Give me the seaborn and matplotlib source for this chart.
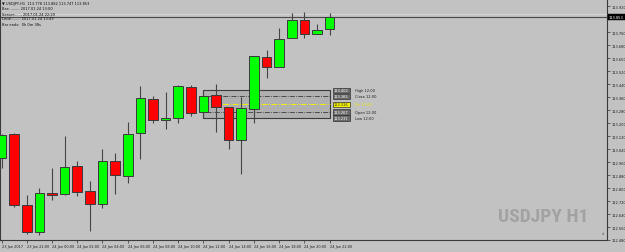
import matplotlib
matplotlib.use("Agg")
import matplotlib.pyplot as plt
import seaborn as sns
import numpy as np
import pandas as pd
from matplotlib.patches import Rectangle
from matplotlib import font_manager

# ---------------- data ----------------
times = ["23 Jan 20:00", "23 Jan 21:00", "23 Jan 22:00", "23 Jan 23:00",
         "24 Jan 00:00", "24 Jan 01:00", "24 Jan 02:00", "24 Jan 03:00",
         "24 Jan 04:00", "24 Jan 05:00", "24 Jan 06:00", "24 Jan 07:00",
         "24 Jan 08:00", "24 Jan 09:00", "24 Jan 10:00", "24 Jan 11:00",
         "24 Jan 12:00", "24 Jan 13:00", "24 Jan 14:00", "24 Jan 15:00",
         "24 Jan 16:00", "24 Jan 17:00", "24 Jan 18:00", "24 Jan 19:00",
         "24 Jan 20:00", "24 Jan 21:00", "24 Jan 22:00"]
open_ = [112.988, 113.135, 112.693, 112.530, 112.772, 112.762, 112.939, 112.782,
         112.703, 112.970, 112.876, 113.139, 113.349, 113.218, 113.232, 113.422,
         113.267, 113.371, 113.298, 113.094, 113.289, 113.611, 113.544, 113.726,
         113.839, 113.750, 113.778]
high = [113.135, 113.138, 112.760, 112.798, 112.921, 113.121, 112.968, 112.846,
        113.039, 113.014, 113.208, 113.428, 113.367, 113.391, 113.434, 113.434,
        113.402, 113.440, 113.298, 113.361, 113.616, 113.650, 113.789, 113.879,
        113.885, 113.813, 113.882]
low = [112.927, 112.682, 112.519, 112.511, 112.727, 112.755, 112.751, 112.536,
       112.678, 112.764, 112.831, 112.980, 113.202, 113.165, 113.204, 113.243,
       113.231, 113.149, 113.043, 112.886, 113.202, 113.477, 113.544, 113.726,
       113.726, 113.750, 113.747]
close = [113.130, 112.693, 112.530, 112.770, 112.758, 112.933, 112.778, 112.699,
         112.968, 112.880, 113.133, 113.353, 113.222, 113.232, 113.428, 113.263,
         113.365, 113.298, 113.094, 113.294, 113.616, 113.544, 113.721, 113.839,
         113.750, 113.775, 113.853]

xtick_pos = [0, 2, 4, 6, 8, 10, 12, 14, 16, 18, 20, 22, 24, 26]
xtick_labels = ["23 Jan 2017", "23 Jan 22:00", "24 Jan 00:00", "24 Jan 02:00",
                "24 Jan 04:00", "24 Jan 06:00", "24 Jan 08:00", "24 Jan 10:00",
                "24 Jan 12:00", "24 Jan 14:00", "24 Jan 16:00", "24 Jan 18:00",
                "24 Jan 20:00", "24 Jan 22:00"]
ytick_vals = [112.480, 112.560, 112.640, 112.720, 112.800, 112.880, 112.960,
              113.040, 113.120, 113.200, 113.280, 113.360, 113.440, 113.520,
              113.600, 113.680, 113.760, 113.920]

level_names = ["High 12:00", "Close 12:00", "Piv 12:00", "Open 12:00", "Low 12:00"]
level_values = [113.402, 113.365, 113.316, 113.267, 113.231]
bid_price = 113.853
ask_price = 113.874

header_lines = ["\u25bc USDJPY,H1  113.778 113.882 113.747 113.853",
                "Bar:......... 2017.01.24 13:00",
                "Server:...... 2017.01.24 22:29",
                "Local:....... 2017.01.24 13:49",
                "Bar ends:  0h 0m 38s"]

# ---------------- style ----------------
BG = "#c2c2c2"
sns.set_theme(style="white", rc={"axes.facecolor": BG, "figure.facecolor": BG,
                                  "axes.edgecolor": "#3a3a3a"})
plt.rcParams["font.family"] = ["DejaVu Sans"]

fig = plt.figure(figsize=(6.25, 2.53), dpi=100)
ax = fig.add_axes([0.0, 12 / 253, 607 / 625, 241 / 253])

df = pd.DataFrame({"t": np.arange(len(times)), "time": times, "open": open_,
                   "high": high, "low": low, "close": close})
df["up"] = df["close"] >= df["open"]
df["bottom"] = df[["open", "close"]].min(axis=1)
df["height"] = (df["close"] - df["open"]).abs().clip(lower=0.004)

# levels box (12:00 candle)
x0, x1 = 15.95, 26.05
ax.add_patch(Rectangle((x0, level_values[4]), x1 - x0, level_values[0] - level_values[4],
                       facecolor="#b0b0b0", edgecolor="#3c3c3c", lw=0.8, zorder=1.5))
ax.hlines([level_values[1], level_values[3]], 16.2, x1, colors="#3c3c3c", lw=0.6,
          linestyles=(0, (6, 1.5, 1, 1.5)), zorder=1.6)
ax.hlines(level_values[2], x0, x1, colors="#f0f000", lw=0.7,
          linestyles=(0, (6, 1.5, 1, 1.5)), zorder=1.6)

# bid / ask lines
ax.axhline(ask_price, color="#d4d4d4", lw=0.8, zorder=1)
ax.axhline(bid_price, color="#4a4a4a", lw=0.8, zorder=1)

# candles
ax.vlines(df["t"], df["low"], df["high"], colors="#454545", lw=0.8, zorder=2)
ax.bar(df["t"], df["height"], bottom=df["bottom"], width=0.76,
       color=np.where(df["up"], "#00ff00", "#ff0000"),
       edgecolor="#3a3a3a", linewidth=0.7, zorder=3)

# level labels
for name, val in zip(level_names, level_values):
    is_piv = name.startswith("Piv")
    ax.text(26.35, val, f"{val:.3f}", fontsize=2.6, va="center", ha="left",
            color="#303030" if is_piv else "white", zorder=5,
            bbox=dict(boxstyle="square,pad=0.25",
                      facecolor="#f0f000" if is_piv else "#6a6a6a",
                      edgecolor="#303030", lw=0.5))
    ax.text(28.0, val, name, fontsize=2.6, va="center", ha="left",
            color="#e8e800" if is_piv else "#202020", zorder=5)

ax.set_xlim(-0.12, 47.98)
ax.set_ylim(112.493, 113.966)

ax.set_xticks(xtick_pos)
ax.set_xticklabels(xtick_labels, fontsize=2.5, ha="left", color="#202020")
ax.yaxis.tick_right()
ax.set_yticks(ytick_vals)
ax.set_yticklabels([f"{v:.3f}" for v in ytick_vals], fontsize=2.6, color="#202020")
ax.tick_params(axis="both", which="both", direction="out", length=2, width=0.5,
               colors="#303030", pad=1, bottom=True, right=True, left=False)
for lbl in ax.get_xticklabels():
    lbl.set_color("#202020")
for lbl in ax.get_yticklabels():
    lbl.set_color("#202020")
ax.spines["top"].set_visible(False)
ax.spines["left"].set_visible(True)
for s in ["bottom", "right", "left"]:
    ax.spines[s].set_linewidth(0.8)

# current price label on the right axis
ax.text(1.003, bid_price, f"{bid_price:.3f}", transform=ax.get_yaxis_transform(),
        fontsize=2.6, color="white", va="center", ha="left", zorder=6, clip_on=False,
        bbox=dict(boxstyle="square,pad=0.3", facecolor="black", edgecolor="black", lw=0.3))

# small marker near the bottom-right corner
ax.text(0.995, 0.02, "\u0101", transform=ax.transAxes, fontsize=3, color="#606060",
        ha="right", va="bottom")

# header / info text
ys = [4, 9.5, 14.5, 19.5, 24.5]
for txt, yp in zip(header_lines, ys):
    fig.text(2 / 625, 1 - yp / 253, txt, fontsize=2.6, color="#101010",
             va="center", ha="left")

# watermark (narrow bold face if one is installed)
available = {f.name for f in font_manager.fontManager.ttflist}
narrow = [n for n in ["Liberation Sans Narrow", "Roboto Condensed", "Open Sans Condensed",
                      "DejaVu Sans Condensed"] if n in available]
if narrow:
    wm_family, wm_size = [narrow[0]], 14
else:
    wm_family, wm_size = ["DejaVu Sans"], 10
ax.text(0.969, 0.10, "USDJPY H1", transform=ax.transAxes, ha="right", va="center",
        fontsize=wm_size, fontweight="bold", color="#a2a2a2", zorder=0.5,
        family=wm_family, fontstretch="condensed")

fig.savefig("out.png", dpi=100, facecolor=BG)
